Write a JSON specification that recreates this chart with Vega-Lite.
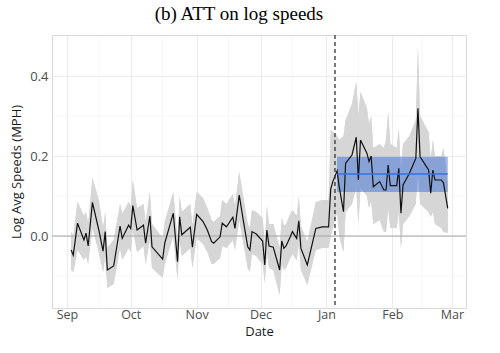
{
  "$schema": "https://vega.github.io/schema/vega-lite/v6.json",
  "width": 414,
  "height": 273,
  "autosize": {"type": "none"},
  "padding": {"left": 52, "top": 35, "right": 34, "bottom": 45},
  "background": "white",
  "title": {"text": "(b) ATT on log speeds", "font": "Liberation Serif", "fontSize": 19, "fontWeight": "normal", "color": "#000000", "anchor": "middle", "dx": -20, "offset": 10},
  "config": {
    "view": {"stroke": "#d9d9d9", "strokeWidth": 1},
    "axis": {"labelFont": "Open Sans", "titleFont": "Open Sans", "labelFontSize": 13, "titleFontSize": 13, "labelColor": "#4d4d4d", "titleColor": "#1a1a1a", "titleFontWeight": "normal", "gridColor": "#ebebeb", "gridWidth": 1, "domain": false, "tickColor": "#bdbdbd", "tickSize": 3}
  },
  "datasets": {
    "series": [
      {"date": "2020-09-03T00:00", "est": -0.035, "lo": -0.085, "hi": 0.01},
      {"date": "2020-09-04T00:00", "est": -0.048, "lo": -0.09, "hi": 0.0},
      {"date": "2020-09-06T00:00", "est": 0.032, "lo": -0.035, "hi": 0.086},
      {"date": "2020-09-09T00:00", "est": -0.01, "lo": -0.06, "hi": 0.05},
      {"date": "2020-09-10T00:00", "est": 0.007, "lo": -0.05, "hi": 0.06},
      {"date": "2020-09-11T00:00", "est": -0.025, "lo": -0.07, "hi": 0.03},
      {"date": "2020-09-13T00:00", "est": 0.084, "lo": 0.02, "hi": 0.145},
      {"date": "2020-09-16T00:00", "est": 0.015, "lo": -0.04, "hi": 0.09},
      {"date": "2020-09-18T00:00", "est": -0.038, "lo": -0.09, "hi": 0.02},
      {"date": "2020-09-19T00:00", "est": 0.011, "lo": -0.05, "hi": 0.06},
      {"date": "2020-09-20T00:00", "est": -0.085, "lo": -0.13, "hi": -0.03},
      {"date": "2020-09-23T00:00", "est": -0.075, "lo": -0.12, "hi": -0.01},
      {"date": "2020-09-26T00:00", "est": 0.025, "lo": -0.03, "hi": 0.08},
      {"date": "2020-09-27T00:00", "est": -0.006, "lo": -0.06, "hi": 0.055},
      {"date": "2020-09-30T00:00", "est": 0.027, "lo": -0.03, "hi": 0.085},
      {"date": "2020-10-01T00:00", "est": 0.019, "lo": -0.04, "hi": 0.075},
      {"date": "2020-10-02T00:00", "est": 0.076, "lo": 0.015, "hi": 0.14},
      {"date": "2020-10-04T00:00", "est": 0.015, "lo": -0.04, "hi": 0.07},
      {"date": "2020-10-07T00:00", "est": 0.027, "lo": -0.025, "hi": 0.08},
      {"date": "2020-10-08T00:00", "est": -0.018, "lo": -0.07, "hi": 0.035},
      {"date": "2020-10-10T00:00", "est": 0.05, "lo": -0.01, "hi": 0.11},
      {"date": "2020-10-11T00:00", "est": -0.027, "lo": -0.08, "hi": 0.03},
      {"date": "2020-10-16T00:00", "est": -0.058, "lo": -0.105, "hi": -0.005},
      {"date": "2020-10-17T00:00", "est": -0.018, "lo": -0.07, "hi": 0.035},
      {"date": "2020-10-21T00:00", "est": 0.057, "lo": 0.0, "hi": 0.11},
      {"date": "2020-10-23T00:00", "est": -0.064, "lo": -0.11, "hi": -0.01},
      {"date": "2020-10-24T00:00", "est": 0.048, "lo": -0.01, "hi": 0.1},
      {"date": "2020-10-25T00:00", "est": 0.003, "lo": -0.05, "hi": 0.06},
      {"date": "2020-10-29T00:00", "est": 0.022, "lo": -0.03, "hi": 0.08},
      {"date": "2020-10-30T00:00", "est": -0.028, "lo": -0.08, "hi": 0.025},
      {"date": "2020-11-01T00:00", "est": 0.054, "lo": -0.005, "hi": 0.11},
      {"date": "2020-11-04T00:00", "est": 0.036, "lo": -0.02, "hi": 0.095},
      {"date": "2020-11-06T00:00", "est": 0.015, "lo": -0.04, "hi": 0.07},
      {"date": "2020-11-08T00:00", "est": -0.014, "lo": -0.07, "hi": 0.04},
      {"date": "2020-11-09T00:00", "est": -0.018, "lo": -0.07, "hi": 0.035},
      {"date": "2020-11-12T00:00", "est": -0.002, "lo": -0.055, "hi": 0.05},
      {"date": "2020-11-13T00:00", "est": 0.032, "lo": -0.025, "hi": 0.09},
      {"date": "2020-11-15T00:00", "est": 0.023, "lo": -0.03, "hi": 0.08},
      {"date": "2020-11-18T00:00", "est": 0.047, "lo": -0.01, "hi": 0.105},
      {"date": "2020-11-19T00:00", "est": 0.019, "lo": -0.035, "hi": 0.075},
      {"date": "2020-11-21T00:00", "est": 0.1025, "lo": 0.04, "hi": 0.16},
      {"date": "2020-11-23T00:00", "est": 0.036, "lo": -0.02, "hi": 0.095},
      {"date": "2020-11-25T00:00", "est": -0.027, "lo": -0.08, "hi": 0.03},
      {"date": "2020-11-26T00:00", "est": -0.035, "lo": -0.09, "hi": 0.02},
      {"date": "2020-11-27T00:00", "est": 0.011, "lo": -0.045, "hi": 0.065},
      {"date": "2020-11-29T00:00", "est": 0.005, "lo": -0.05, "hi": 0.06},
      {"date": "2020-12-02T00:00", "est": -0.0125, "lo": -0.07, "hi": 0.045},
      {"date": "2020-12-03T00:00", "est": -0.0725, "lo": -0.118, "hi": -0.02},
      {"date": "2020-12-04T00:00", "est": 0.015, "lo": -0.04, "hi": 0.075},
      {"date": "2020-12-05T00:00", "est": -0.025, "lo": -0.08, "hi": 0.03},
      {"date": "2020-12-07T00:00", "est": -0.028, "lo": -0.085, "hi": 0.03},
      {"date": "2020-12-10T00:00", "est": -0.085, "lo": -0.148, "hi": -0.03},
      {"date": "2020-12-11T00:00", "est": -0.0125, "lo": -0.07, "hi": 0.045},
      {"date": "2020-12-12T00:00", "est": -0.031, "lo": -0.085, "hi": 0.025},
      {"date": "2020-12-13T00:00", "est": -0.025, "lo": -0.08, "hi": 0.03},
      {"date": "2020-12-15T00:00", "est": -0.002, "lo": -0.055, "hi": 0.055},
      {"date": "2020-12-16T00:00", "est": 0.011, "lo": -0.045, "hi": 0.065},
      {"date": "2020-12-18T00:00", "est": -0.006, "lo": -0.06, "hi": 0.05},
      {"date": "2020-12-19T00:00", "est": 0.038, "lo": -0.02, "hi": 0.098},
      {"date": "2020-12-20T00:00", "est": -0.031, "lo": -0.085, "hi": 0.025},
      {"date": "2020-12-23T00:00", "est": -0.0725, "lo": -0.122, "hi": -0.015},
      {"date": "2020-12-27T00:00", "est": 0.019, "lo": -0.035, "hi": 0.085},
      {"date": "2020-12-30T00:00", "est": 0.023, "lo": -0.03, "hi": 0.09},
      {"date": "2021-01-02T00:00", "est": 0.023, "lo": -0.03, "hi": 0.09},
      {"date": "2021-01-03T00:00", "est": 0.117, "lo": 0.0, "hi": 0.265},
      {"date": "2021-01-04T00:00", "est": 0.136, "lo": 0.02, "hi": 0.26},
      {"date": "2021-01-06T00:00", "est": 0.163, "lo": 0.06, "hi": 0.25},
      {"date": "2021-01-07T00:00", "est": 0.123, "lo": 0.0, "hi": 0.24},
      {"date": "2021-01-09T00:00", "est": 0.061, "lo": -0.04, "hi": 0.25},
      {"date": "2021-01-10T00:00", "est": 0.182, "lo": 0.06, "hi": 0.29},
      {"date": "2021-01-13T00:00", "est": 0.2025, "lo": 0.08, "hi": 0.33},
      {"date": "2021-01-15T00:00", "est": 0.247, "lo": 0.12, "hi": 0.386},
      {"date": "2021-01-16T00:00", "est": 0.14, "lo": 0.03, "hi": 0.3},
      {"date": "2021-01-17T00:00", "est": 0.24, "lo": 0.12, "hi": 0.36},
      {"date": "2021-01-20T00:00", "est": 0.207, "lo": 0.1, "hi": 0.32},
      {"date": "2021-01-21T00:00", "est": 0.186, "lo": 0.07, "hi": 0.28},
      {"date": "2021-01-22T00:00", "est": 0.2, "lo": 0.09, "hi": 0.3},
      {"date": "2021-01-23T00:00", "est": 0.123, "lo": 0.03, "hi": 0.22},
      {"date": "2021-01-26T00:00", "est": 0.136, "lo": 0.04, "hi": 0.23},
      {"date": "2021-01-28T00:00", "est": 0.115, "lo": 0.01, "hi": 0.22},
      {"date": "2021-01-29T00:00", "est": 0.115, "lo": 0.01, "hi": 0.24},
      {"date": "2021-01-30T00:00", "est": 0.1775, "lo": 0.07, "hi": 0.31},
      {"date": "2021-01-31T00:00", "est": 0.126, "lo": 0.02, "hi": 0.23},
      {"date": "2021-02-03T00:00", "est": 0.126, "lo": 0.02, "hi": 0.22},
      {"date": "2021-02-04T00:00", "est": 0.169, "lo": 0.06, "hi": 0.27},
      {"date": "2021-02-05T00:00", "est": 0.057, "lo": -0.03, "hi": 0.16},
      {"date": "2021-02-06T00:00", "est": 0.1275, "lo": 0.03, "hi": 0.23},
      {"date": "2021-02-09T00:00", "est": 0.157, "lo": 0.05, "hi": 0.25},
      {"date": "2021-02-12T00:00", "est": 0.194, "lo": 0.08, "hi": 0.29},
      {"date": "2021-02-13T00:00", "est": 0.319, "lo": 0.17, "hi": 0.47},
      {"date": "2021-02-14T00:00", "est": 0.198, "lo": 0.08, "hi": 0.3},
      {"date": "2021-02-18T00:00", "est": 0.165, "lo": 0.06, "hi": 0.26},
      {"date": "2021-02-19T00:00", "est": 0.107, "lo": 0.048, "hi": 0.19},
      {"date": "2021-02-20T00:00", "est": 0.165, "lo": 0.06, "hi": 0.24},
      {"date": "2021-02-21T00:00", "est": 0.14, "lo": 0.03, "hi": 0.2},
      {"date": "2021-02-24T00:00", "est": 0.14, "lo": 0.02, "hi": 0.2},
      {"date": "2021-02-25T00:00", "est": 0.133, "lo": 0.01, "hi": 0.22},
      {"date": "2021-02-27T00:00", "est": 0.069, "lo": 0.008, "hi": 0.13}
    ],
    "band": [
      {"start": "2021-01-06T00:00", "end": "2021-02-27T00:00", "lo": 0.11, "hi": 0.198, "att": 0.155}
    ],
    "treat": [{"date": "2021-01-05T00:00"}],
    "minorx": [
      {"date": "2020-09-16T00:00"}, {"date": "2020-10-16T00:00"}, {"date": "2020-11-16T00:00"},
      {"date": "2020-12-16T00:00"}, {"date": "2021-01-16T00:00"}, {"date": "2021-02-15T00:00"}
    ],
    "minory": [{"v": -0.1}, {"v": 0.1}, {"v": 0.3}]
  },
  "layer": [
    {
      "data": {"name": "series"},
      "mark": {"type": "area", "color": "#d6d6d6", "opacity": 1},
      "encoding": {
        "x": {"field": "date", "type": "temporal",
          "scale": {"domain": [{"year": 2020, "month": 8, "date": 25}, {"year": 2021, "month": 3, "date": 7, "hours": 14}]},
          "axis": {"title": "Date", "format": "%b", "ticks": false, "labelFontSize": 12.5, "labelPadding": 0, "titlePadding": 5,
            "values": [{"year": 2020, "month": 9, "date": 1}, {"year": 2020, "month": 10, "date": 1}, {"year": 2020, "month": 11, "date": 1}, {"year": 2020, "month": 12, "date": 1}, {"year": 2021, "month": 1, "date": 1}, {"year": 2021, "month": 2, "date": 1}, {"year": 2021, "month": 3, "date": 1}]}},
        "y": {"field": "lo", "type": "quantitative",
          "scale": {"domain": [-0.18, 0.5025], "nice": false, "zero": false},
          "axis": {"title": "Log Avg Speeds (MPH)", "values": [0, 0.2, 0.4], "format": ".1f", "ticks": false, "labelPadding": 4, "titlePadding": 6}},
        "y2": {"field": "hi"}
      }
    },
    {
      "data": {"name": "minorx"},
      "mark": {"type": "rule", "color": "#f2f2f2", "strokeWidth": 0.6},
      "encoding": {"x": {"field": "date", "type": "temporal"}}
    },
    {
      "data": {"name": "minory"},
      "mark": {"type": "rule", "color": "#f2f2f2", "strokeWidth": 0.6},
      "encoding": {"y": {"field": "v", "type": "quantitative"}}
    },
    {
      "data": {"name": "series"},
      "mark": {"type": "area", "color": "#d6d6d6", "opacity": 1},
      "encoding": {
        "x": {"field": "date", "type": "temporal"},
        "y": {"field": "lo", "type": "quantitative"},
        "y2": {"field": "hi"}
      }
    },
    {
      "data": {"name": "treat"},
      "mark": {"type": "rule", "color": "#a6a6a6", "strokeWidth": 1},
      "encoding": {"y": {"datum": 0, "type": "quantitative"}}
    },
    {
      "data": {"name": "band"},
      "mark": {"type": "rect", "color": "#4a78d6", "opacity": 0.55},
      "encoding": {
        "x": {"field": "start", "type": "temporal"},
        "x2": {"field": "end"},
        "y": {"field": "lo", "type": "quantitative"},
        "y2": {"field": "hi"}
      }
    },
    {
      "data": {"name": "series"},
      "mark": {"type": "line", "color": "#111111", "strokeWidth": 1.2},
      "encoding": {
        "x": {"field": "date", "type": "temporal"},
        "y": {"field": "est", "type": "quantitative"}
      }
    },
    {
      "data": {"name": "band"},
      "mark": {"type": "rule", "color": "#3a6fdc", "strokeWidth": 1.6},
      "encoding": {
        "x": {"field": "start", "type": "temporal"},
        "x2": {"field": "end"},
        "y": {"field": "att", "type": "quantitative"}
      }
    },
    {
      "data": {"name": "treat"},
      "mark": {"type": "rule", "color": "#333333", "strokeWidth": 1.3, "strokeDash": [4, 3]},
      "encoding": {"x": {"field": "date", "type": "temporal"}}
    }
  ]
}
